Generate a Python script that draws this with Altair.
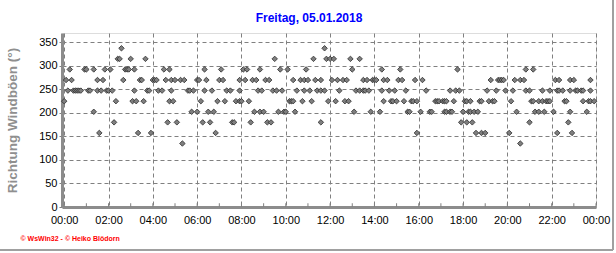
import altair as alt
import pandas as pd

TITLE = "Freitag, 05.01.2018"
Y_TITLE = "Richtung Windböen (°)"
FOOTER = "© WsWin32 - © Heiko Blödorn"

# Wind-gust direction readings: 5-minute slot index (0 = 00:00, 287 = 23:55) per direction (degrees)
slots_337_5 = [31, 141]
slots_315 = [29, 30, 36, 44, 114, 135, 142, 144, 146, 155, 160]
slots_292_5 = [3, 11, 12, 16, 22, 25, 33, 34, 35, 38, 54, 57, 76, 85, 97, 99, 106, 117, 121,
               131, 156, 172, 182, 213, 250, 254]
slots_270 = [1, 4, 18, 21, 32, 41, 42, 48, 49, 50, 55, 58, 60, 63, 65, 72, 73, 77, 84, 86, 95,
             98, 102, 104, 109, 111, 124, 128, 130, 132, 136, 139, 145, 148, 151, 153, 162, 164,
             167, 168, 169, 173, 175, 181, 183, 190, 194, 231, 235, 236, 237, 238, 244, 247, 249,
             266, 268, 274, 276, 285]
slots_247_5 = [2, 5, 6, 7, 8, 9, 13, 14, 18, 20, 23, 24, 26, 38, 45, 46, 51, 53, 58, 67, 68, 70,
               76, 80, 88, 90, 95, 105, 107, 113, 115, 118, 126, 130, 133, 137, 139, 141, 149,
               158, 160, 162, 163, 165, 172, 176, 179, 185, 196, 209, 212, 214, 229, 234, 239,
               243, 250, 252, 259, 263, 267, 268, 270, 274, 277, 278, 280, 281, 285]
slots_225 = [0, 28, 37, 39, 43, 57, 59, 74, 83, 87, 93, 95, 96, 100, 122, 123, 124, 129, 134, 143,
             147, 152, 154, 173, 177, 178, 180, 184, 188, 189, 191, 201, 202, 203, 205, 206, 207,
             211, 217, 218, 220, 225, 226, 230, 232, 233, 242, 253, 254, 257, 259, 261, 262, 263,
             271, 272, 281, 284, 285, 287]
slots_202_5 = [16, 69, 72, 78, 81, 103, 106, 108, 116, 119, 120, 125, 157, 166, 171, 186, 187,
               193, 198, 199, 206, 207, 209, 210, 216, 219, 220, 222, 224, 245, 255, 257, 260,
               265, 274, 283]
slots_180 = [27, 56, 61, 75, 79, 91, 92, 101, 110, 112, 139, 215, 218, 221, 252, 273]
slots_157_5 = [19, 40, 47, 82, 191, 223, 226, 228, 241, 267, 275]
slots_135 = [64, 247]

directions = [337.5, 315, 292.5, 270, 247.5, 225, 202.5, 180, 157.5, 135]
slot_lists = [slots_337_5, slots_315, slots_292_5, slots_270, slots_247_5, slots_225,
              slots_202_5, slots_180, slots_157_5, slots_135]

x_label_hours = list(range(0, 25, 2))
hour_marks = list(range(0, 25))
y_ticks = list(range(0, 351, 50))

rows = []
for d, sl in zip(directions, slot_lists):
    for s in sl:
        rows.append({"hour": s * 5 / 60.0, "dir": d})
df = pd.DataFrame(rows)
ticks_df = pd.DataFrame({"hour": hour_marks, "dir": [0] * len(hour_marks), "dir_end": [8] * len(hour_marks)})

W, H = 534, 174
x_scale = alt.Scale(domain=[-0.1, 24], nice=False, zero=False)
y_scale = alt.Scale(domain=[0, 370], nice=False)
FONT = "Liberation Sans"

x_axis = alt.Axis(
    values=x_label_hours,
    labelExpr="datum.value == 24 ? '00:00' : (datum.value < 10 ? '0' : '') + datum.value + ':00'",
    grid=True, gridDash=[4, 3], gridColor="#808080", gridWidth=1,
    domainColor="#8c8c8c", domainWidth=3, ticks=False,
    labelFont=FONT, labelFontSize=11, labelColor="black", labelPadding=7,
    labelFlush=False, labelOverlap=False,
    title=FOOTER, titleColor="#ff0000", titleFont=FONT, titleFontSize=7,
    titleFontWeight="bold", titleAnchor="start", titleAlign="left",
    titleX=-42, titleY=31, titleBaseline="middle",
)
y_axis = alt.Axis(
    values=y_ticks,
    grid=True, gridDash=[4, 3], gridColor="#808080", gridWidth=1,
    domainColor="#8c8c8c", domainWidth=3, tickSize=3, tickColor="#808080",
    labelFont=FONT, labelFontSize=11, labelColor="black", labelPadding=2,
    labelFlush=False, labelOverlap=False,
    title=Y_TITLE, titleColor="#8f8f8f", titleFont=FONT, titleFontSize=13.5,
    titleFontWeight="bold", titleX=-50, titleY=H / 2, titleAngle=270,
    titleAlign="center", titleBaseline="middle",
)

points = alt.Chart(df).mark_point(
    shape="diamond", filled=True, size=30, fill="#7f7f7f", stroke="#2b2b2b",
    strokeWidth=0.8, opacity=1,
).encode(
    x=alt.X("hour:Q", scale=x_scale, axis=x_axis),
    y=alt.Y("dir:Q", scale=y_scale, axis=y_axis),
)

hour_ticks = alt.Chart(ticks_df).mark_rule(color="#808080", strokeWidth=1).encode(
    x=alt.X("hour:Q", scale=x_scale, axis=x_axis),
    y=alt.Y("dir:Q", scale=y_scale, axis=y_axis),
    y2="dir_end:Q",
)

frame_right = alt.Chart(ticks_df).mark_rule(color="#a0a0a0", strokeWidth=2).encode(
    x=alt.value(551), y=alt.value(-33), y2=alt.value(217)
)
frame_bottom = alt.Chart(ticks_df).mark_rule(color="#a0a0a0", strokeWidth=2).encode(
    x=alt.value(-62), x2=alt.value(551), y=alt.value(217)
)

chart = alt.layer(points, hour_ticks, frame_right, frame_bottom).properties(
    width=W, height=H,
    title=alt.TitleParams(TITLE, color="#0000ff", font=FONT, fontSize=12, fontWeight="bold",
                          anchor="middle", frame="group", baseline="alphabetic",
                          dx=-20, dy=35, offset=0),
    padding={"left": 62, "top": 33, "right": 20, "bottom": 46},
    autosize=alt.AutoSizeParams(type="none"),
).configure_view(stroke="black", strokeWidth=1).configure(background="white")

chart.save("out.html", embed_options={"renderer": "svg", "actions": False})
